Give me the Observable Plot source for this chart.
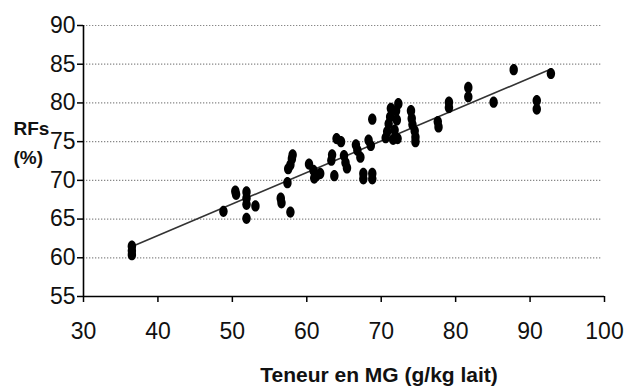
<!DOCTYPE html>
<html>
<head>
<meta charset="utf-8">
<script src="https://cdn.jsdelivr.net/npm/d3@7"></script>
<script src="https://cdn.jsdelivr.net/npm/@observablehq/plot@0.6"></script>
<style>
  html, body { margin: 0; padding: 0; background: #fff; }
</style>
</head>
<body>
<div id="chart"></div>
<script>
// Teneur en MG (g/kg lait)
const fatContent = [
  36.5, 36.5, 36.5, 48.8, 50.4, 50.5, 51.9, 51.9, 51.9, 51.9,
  53.1, 56.5, 56.6, 57.8, 57.4, 57.5, 57.8, 58.0, 58.1, 60.3,
  60.9, 61.3, 61.8, 61.0, 63.4, 63.3, 63.7, 64.0, 64.6, 65.0,
  65.2, 65.4, 66.6, 66.8, 67.2, 67.6, 67.6, 68.8, 68.8, 68.3,
  68.6, 68.8, 70.6, 70.8, 71.0, 71.3, 71.2, 71.6, 71.8, 72.1,
  72.2, 72.3, 72.0, 74.0, 74.1, 74.2, 74.5, 74.6, 74.6, 77.6,
  77.7, 79.1, 79.1, 81.7, 81.7, 85.1, 87.8, 92.8, 90.9, 90.9
];
// RFs (%)
const rfs = [
  61.5, 60.9, 60.4, 66.0, 68.6, 68.2, 68.5, 67.7, 66.9, 65.1,
  66.7, 67.7, 67.1, 65.9, 69.7, 71.5, 72.0, 72.8, 73.3, 72.1,
  71.3, 70.6, 70.9, 70.3, 73.3, 72.6, 70.6, 75.4, 75.0, 73.2,
  72.3, 71.6, 74.6, 73.9, 73.0, 70.9, 70.2, 70.9, 70.2, 75.2,
  74.5, 77.9, 75.5, 76.3, 77.3, 79.3, 78.2, 75.3, 76.5, 77.8,
  75.4, 79.9, 79.0, 79.0, 78.0, 77.2, 76.4, 75.6, 75.0, 77.6,
  76.9, 80.1, 79.4, 82.0, 80.8, 80.1, 84.3, 83.8, 80.3, 79.2
];
// trend line end points
const trendX = [36.6, 92.9];
const trendY = [61.5, 84.4];

const xTicks = [30, 40, 50, 60, 70, 80, 90, 100];
const yTicks = [55, 60, 65, 70, 75, 80, 85, 90];
const gridValues = [60, 65, 70, 75, 80, 85, 90];

const xTitle = "Teneur en MG (g/kg lait)";
const yTitle1 = "RFs";
const yTitle2 = "(%)";

const points = fatContent.map((x, i) => ({x, y: rfs[i]}));
const trend = trendX.map((x, i) => ({x, y: trendY[i]}));

const ellipse = {
  draw(ctx) {
    const rx = 4.2, ry = 5.6, k = 0.5523;
    ctx.moveTo(rx, 0);
    ctx.bezierCurveTo(rx, ry * k, rx * k, ry, 0, ry);
    ctx.bezierCurveTo(-rx * k, ry, -rx, ry * k, -rx, 0);
    ctx.bezierCurveTo(-rx, -ry * k, -rx * k, -ry, 0, -ry);
    ctx.bezierCurveTo(rx * k, -ry, rx, -ry * k, rx, 0);
    ctx.closePath();
  }
};

const chart = Plot.plot({
  width: 633,
  height: 387,
  marginLeft: 83,
  marginRight: 29,
  marginTop: 25,
  marginBottom: 91,
  style: {fontFamily: "'Liberation Sans', Arial, sans-serif", background: "#fff", color: "#111"},
  x: {domain: [30, 100]},
  y: {domain: [55, 90]},
  marks: [
    Plot.ruleY(gridValues, {x1: 30, x2: 99.7, stroke: "#888", strokeWidth: 1.2, strokeDasharray: "1.3,1.7"}),
    Plot.line(trend, {x: "x", y: "y", stroke: "#333", strokeWidth: 1.6}),
    Plot.dot(points, {x: "x", y: "y", symbol: ellipse, fill: "#000", stroke: "none"}),
    Plot.ruleX([30], {stroke: "#000", strokeWidth: 1.6}),
    Plot.ruleY([55], {stroke: "#000", strokeWidth: 1.6}),
    Plot.axisX({ticks: xTicks, tickFormat: d => String(d), tickSize: 6, tickPadding: 20, fontSize: 23, label: null, stroke: "#000", strokeWidth: 1.5}),
    Plot.axisY({ticks: yTicks, tickFormat: d => String(d), tickSize: 6, tickPadding: 2, fontSize: 23, label: null, stroke: "#000", strokeWidth: 1.5}),
    Plot.text([xTitle], {frameAnchor: "bottom", dx: 35, dy: 79, lineAnchor: "middle", fontSize: 21, fontWeight: "bold", fill: "#111"}),
    Plot.text([yTitle1], {frameAnchor: "top-left", textAnchor: "start", dx: -70, dy: 103, lineAnchor: "middle", fontSize: 19, fontWeight: "bold", fill: "#111"}),
    Plot.text([yTitle2], {frameAnchor: "top-left", textAnchor: "start", dx: -70, dy: 132, lineAnchor: "middle", fontSize: 19, fontWeight: "bold", fill: "#111"})
  ]
});
document.getElementById("chart").appendChild(chart);
</script>
</body>
</html>
